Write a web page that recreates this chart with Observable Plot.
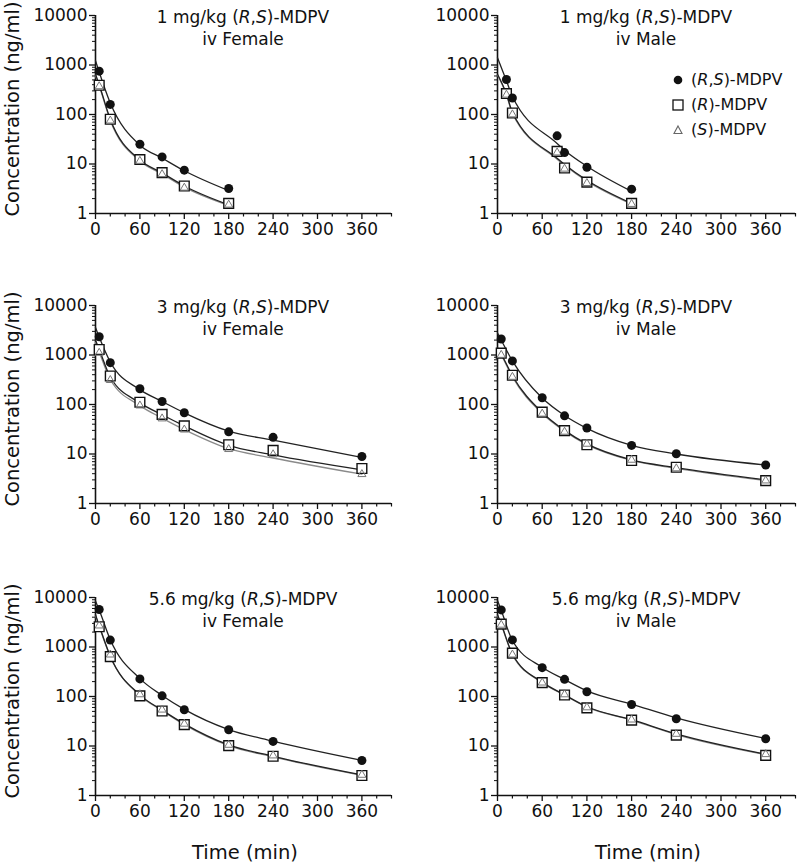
<!DOCTYPE html>
<html>
<head>
<meta charset="utf-8">
<script src="https://cdn.jsdelivr.net/npm/d3@7"></script>
<script src="https://cdn.jsdelivr.net/npm/@observablehq/plot@0.6"></script>
<style>
  body { margin: 0; background: #fff; }
  #chart { position: relative; width: 800px; height: 864px; font-family: "DejaVu Sans", sans-serif; color: #111; overflow: hidden; }
  .panel { position: absolute; }
  .title { position: absolute; text-align: center; font-size: 17px; line-height: 22px; white-space: nowrap; transform: translateX(-50%); }
  .ylab { position: absolute; font-size: 19.5px; white-space: nowrap; transform: translate(-50%, -50%) rotate(-90deg); }
  .xlab { position: absolute; font-size: 19.5px; white-space: nowrap; transform: translate(-50%, -50%); }
  .legend { position: absolute; font-size: 16px; line-height: 25px; }
  .legend div { display: flex; align-items: center; white-space: nowrap; }
  .legend svg { margin-right: 6px; }
</style>
</head>
<body>
<div id="chart"></div>
<script>
// ---- tick labels / ticks ----
const xMajor = [0, 60, 120, 180, 240, 300, 360];
const xMinor = [20, 40, 80, 100, 140, 160, 200, 220, 260, 280, 320, 340, 380, 400];
const yMajor = [1, 10, 100, 1000, 10000];
const seriesNames = ["(R,S)-MDPV", "(R)-MDPV", "(S)-MDPV"];

// ---- 1 mg/kg iv Female ----
const f1Time = [5, 20, 60, 90, 120, 180];
const f1RS = [750, 160, 25, 13.9, 7.5, 3.2];
const f1R = [390, 80, 12.3, 6.7, 3.6, 1.6];
const f1S = [370, 75, 11.5, 6.2, 3.3, 1.5];
const f1FitTime = [0, 5, 20, 60, 90, 120, 180];
const f1FitRS = [1230, 720, 170, 24, 13.2, 7.3, 2.9];
const f1FitR = [650, 400, 80, 12, 6.6, 3.6, 1.5];
const f1FitS = [620, 380, 76, 11.5, 6.3, 3.4, 1.45];

// ---- 1 mg/kg iv Male ----
const m1Time = [12, 20, 80, 90, 120, 180];
const m1RS = [510, 215, 37, 17, 8.6, 3.1];
const m1R = [265, 107, 18, 8.3, 4.3, 1.6];
const m1S = [250, 100, 17, 8, 4.1, 1.55];
const m1FitTime = [0, 12, 20, 80, 90, 120, 180];
const m1FitRS = [1400, 480, 230, 26, 19, 9, 2.8];
const m1FitR = [650, 260, 110, 13, 9.8, 4.7, 1.6];
const m1FitS = [630, 250, 105, 12.5, 9.4, 4.5, 1.55];

// ---- 3 mg/kg iv Female ----
const f3Time = [5, 20, 60, 90, 120, 180, 240, 360];
const f3RS = [2340, 700, 208, 115, 68, 28, 21.7, 8.9];
const f3R = [1290, 377, 111, 63, 37, 15.4, 11.8, 5.1];
const f3S = [1100, 310, 95, 52, 31, 12.5, 9.8, 3.9];
const f3FitTime = [0, 5, 20, 60, 90, 120, 180, 240, 360];
const f3FitRS = [3600, 2300, 720, 200, 115, 68, 29, 19, 8.5];
const f3FitR = [2000, 1300, 360, 108, 62, 37, 15, 9.6, 4.8];
const f3FitS = [1800, 1150, 320, 95, 53, 31, 12.8, 8.3, 3.9];

// ---- 3 mg/kg iv Male ----
const m3Time = [5, 20, 60, 90, 120, 180, 240, 360];
const m3RS = [2100, 760, 137, 59, 33.5, 14.9, 10.1, 6.0];
const m3R = [1090, 390, 70, 29.6, 15.4, 7.4, 5.4, 2.9];
const m3S = [1000, 360, 65, 28, 16, 7.6, 5.1, 2.9];
const m3FitTime = [0, 5, 20, 60, 90, 120, 180, 240, 360];
const m3FitRS = [2800, 2000, 760, 135, 60, 33, 15, 10, 6.0];
const m3FitR = [1400, 1050, 380, 69, 30, 16, 7.6, 5.3, 3.0];
const m3FitS = [1350, 1000, 360, 66, 29, 15.5, 7.4, 5.1, 2.9];

// ---- 5.6 mg/kg iv Female ----
const f56Time = [5, 20, 60, 90, 120, 180, 240, 360];
const f56RS = [5730, 1380, 227, 103, 54, 21.3, 12.4, 5.1];
const f56R = [2570, 640, 103, 51, 27, 10.2, 6.2, 2.53];
const f56S = [2700, 700, 110, 54, 28, 10.5, 6.4, 2.6];
const f56FitTime = [0, 5, 20, 60, 90, 120, 180, 240, 360];
const f56FitRS = [8500, 5600, 1400, 230, 105, 55, 21.5, 12.5, 5.1];
const f56FitR = [4500, 2700, 650, 108, 53, 28, 10.5, 6.2, 2.6];
const f56FitS = [4300, 2600, 640, 105, 52, 27, 10.2, 6.0, 2.55];

// ---- 5.6 mg/kg iv Male ----
const m56Time = [5, 20, 60, 90, 120, 180, 240, 360];
const m56RS = [5620, 1390, 383, 222, 125, 69, 35.6, 14];
const m56R = [2890, 750, 191, 107, 59, 33.4, 16.6, 6.45];
const m56S = [2800, 700, 190, 110, 60, 34, 17.5, 6.8];
const m56FitTime = [0, 5, 20, 60, 90, 120, 180, 240, 360];
const m56FitRS = [8700, 5500, 1350, 390, 220, 130, 70, 37, 14.2];
const m56FitR = [4500, 2900, 720, 195, 108, 62, 34, 17.5, 6.8];
const m56FitS = [4300, 2800, 700, 190, 106, 61, 33.5, 17, 6.7];

const titlesDose = ["1 mg/kg", "1 mg/kg", "3 mg/kg", "3 mg/kg", "5.6 mg/kg", "5.6 mg/kg"];
const titlesSex = ["iv Female", "iv Male", "iv Female", "iv Male", "iv Female", "iv Male"];

const rows = (time, values) => time.map((t, i) => ({t, v: values[i]}));
const yMinor = [];
for (const d of [1, 10, 100, 1000]) for (let k = 2; k <= 9; k++) yMinor.push(d * k);

const panelData = [
  {time: f1Time, rs: f1RS, r: f1R, s: f1S, ft: f1FitTime, frs: f1FitRS, fr: f1FitR, fs: f1FitS},
  {time: m1Time, rs: m1RS, r: m1R, s: m1S, ft: m1FitTime, frs: m1FitRS, fr: m1FitR, fs: m1FitS},
  {time: f3Time, rs: f3RS, r: f3R, s: f3S, ft: f3FitTime, frs: f3FitRS, fr: f3FitR, fs: f3FitS},
  {time: m3Time, rs: m3RS, r: m3R, s: m3S, ft: m3FitTime, frs: m3FitRS, fr: m3FitR, fs: m3FitS},
  {time: f56Time, rs: f56RS, r: f56R, s: f56S, ft: f56FitTime, frs: f56FitRS, fr: f56FitR, fs: f56FitS},
  {time: m56Time, rs: m56RS, r: m56R, s: m56S, ft: m56FitTime, frs: m56FitRS, fr: m56FitR, fs: m56FitS}
];

// layout (page positions)
const rowTops = [0, 290, 582];      // svg top per row
const frameTop = 15, frameH = 198;
const colLeft = [0, 400];
const colML = [95, 97], colMR = [9, 5];

const chart = document.getElementById("chart");
const ink = "#111";

panelData.forEach((p, i) => {
  const row = Math.floor(i / 2), col = i % 2;
  const svg = Plot.plot({
    width: 400,
    height: frameTop + frameH + 40,
    marginTop: frameTop,
    marginBottom: 40,
    marginLeft: colML[col],
    marginRight: colMR[col],
    x: {domain: [0, 400], axis: null},
    y: {type: "log", domain: [1, 10000], axis: null},
    style: {fontFamily: "DejaVu Sans, sans-serif", fontSize: "17px", color: ink, background: "transparent", overflow: "visible"},
    marks: [
      Plot.axisX(xMajor, {tickSize: 6, tickPadding: 3, tickFormat: d => String(d), label: null, fontSize: 17, strokeWidth: 1.3}),
      Plot.axisX(xMinor, {tickSize: 3.5, tickFormat: () => "", label: null, strokeWidth: 1.2}),
      Plot.axisY(yMajor, {tickSize: 6, tickPadding: 2, tickFormat: d => String(d), label: null, fontSize: 17, strokeWidth: 1.3}),
      Plot.axisY(yMinor, {tickSize: 3, tickFormat: () => "", label: null, strokeWidth: 1}),
      Plot.ruleX([0], {stroke: ink, strokeWidth: 1.6}),
      Plot.ruleY([1], {stroke: ink, strokeWidth: 1.6}),
      Plot.line(rows(p.ft, p.fs), {x: "t", y: "v", curve: "monotone-x", stroke: "#8a8a8a", strokeWidth: 1.3}),
      Plot.line(rows(p.ft, p.fr), {x: "t", y: "v", curve: "monotone-x", stroke: "#222", strokeWidth: 1.3}),
      Plot.line(rows(p.ft, p.frs), {x: "t", y: "v", curve: "monotone-x", stroke: "#222", strokeWidth: 1.3}),
      Plot.dot(rows(p.time, p.r), {x: "t", y: "v", symbol: "square", r: 5.5, stroke: ink, fill: "white", strokeWidth: 1.4}),
      Plot.dot(rows(p.time, p.s), {x: "t", y: "v", symbol: "triangle", r: 3, stroke: "#777", fill: "none", strokeWidth: 1}),
      Plot.dot(rows(p.time, p.rs), {x: "t", y: "v", symbol: "circle", r: 4.5, fill: ink, stroke: "none"})
    ]
  });
  const wrap = document.createElement("div");
  wrap.className = "panel";
  wrap.style.left = colLeft[col] + "px";
  wrap.style.top = rowTops[row] + "px";
  wrap.appendChild(svg);
  chart.appendChild(wrap);

  // title
  const t = document.createElement("div");
  t.className = "title";
  const fx0 = colLeft[col] + colML[col], fx1 = colLeft[col] + 400 - colMR[col];
  t.style.left = ((fx0 + fx1) / 2) + "px";
  t.style.top = (rowTops[row] + frameTop - 9) + "px";
  t.innerHTML = `${titlesDose[i]} (<i>R</i>,<i>S</i>)-MDPV<br>${titlesSex[i]}`;
  chart.appendChild(t);

  if (col === 0) {
    const yl = document.createElement("div");
    yl.className = "ylab";
    yl.style.left = "12px";
    yl.style.top = (rowTops[row] + frameTop + frameH / 2 - 5) + "px";
    yl.textContent = "Concentration (ng/ml)";
    chart.appendChild(yl);
  }
  if (row === 2) {
    const xl = document.createElement("div");
    xl.className = "xlab";
    xl.style.left = ((fx0 + fx1) / 2 + 2) + "px";
    xl.style.top = "852px";
    xl.textContent = "Time (min)";
    chart.appendChild(xl);
  }
});

// legend (inside the 1 mg/kg Male panel)
const legend = document.createElement("div");
legend.className = "legend";
legend.style.left = "671px";
legend.style.top = "67px";
const sym = [
  `<svg width="14" height="14"><circle cx="7" cy="7" r="4.3" fill="${ink}"/></svg>`,
  `<svg width="14" height="14"><rect x="2" y="2" width="10" height="10" fill="white" stroke="${ink}" stroke-width="1.3"/></svg>`,
  `<svg width="14" height="14"><path d="M7,3 L11,10.5 L3,10.5 Z" fill="none" stroke="#666" stroke-width="1.1"/></svg>`
];
const legendHtml = [
  `(<i>R</i>,<i>S</i>)-MDPV`,
  `(<i>R</i>)-MDPV`,
  `(<i>S</i>)-MDPV`
];
legend.innerHTML = seriesNames.map((n, k) => `<div title="${n}">${sym[k]}<span>${legendHtml[k]}</span></div>`).join("");
chart.appendChild(legend);
</script>
</body>
</html>
